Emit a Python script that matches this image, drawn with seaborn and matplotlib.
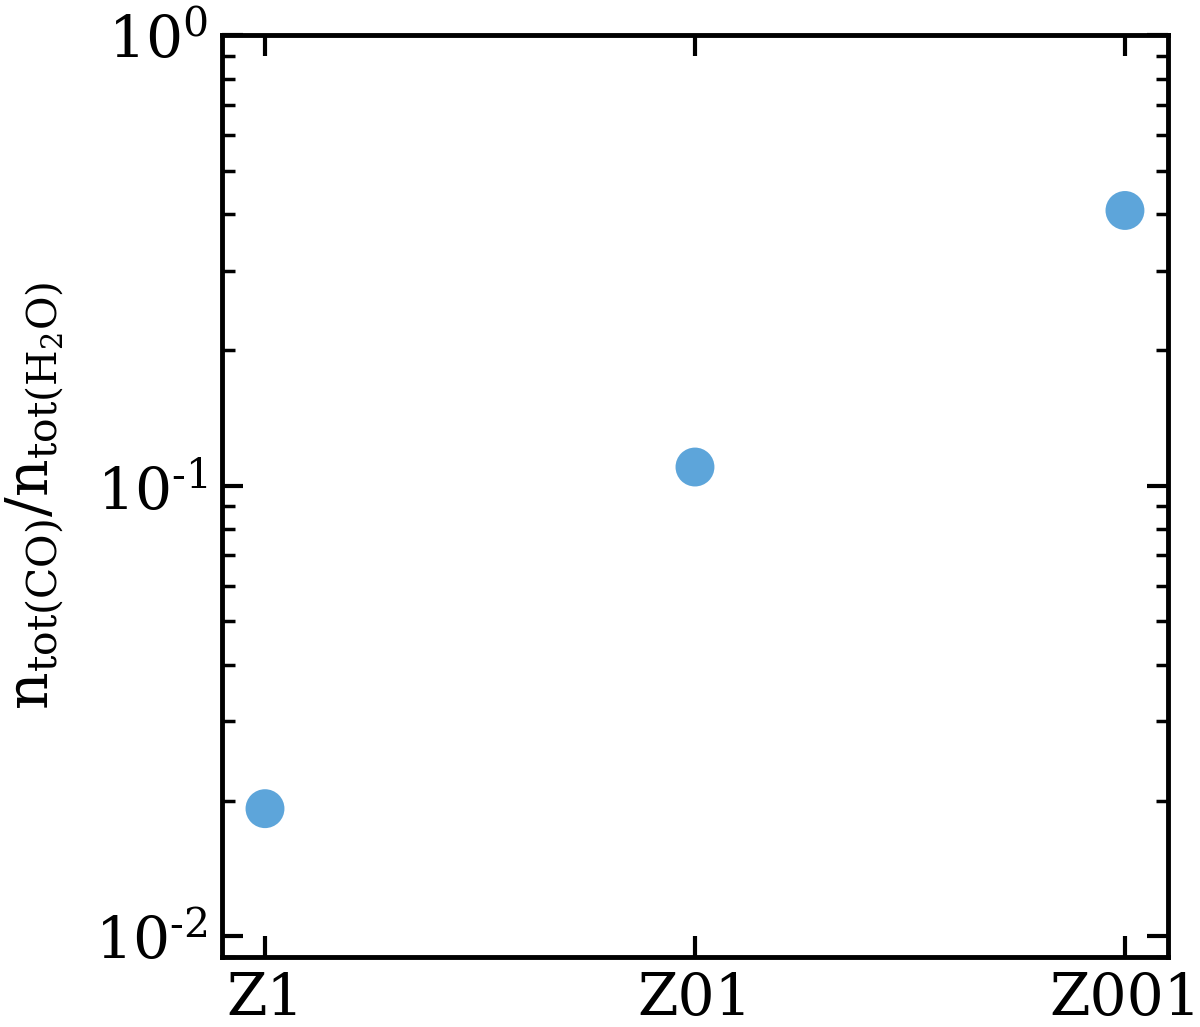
import matplotlib
matplotlib.use("Agg")
import matplotlib.pyplot as plt
import seaborn as sns
import pandas as pd
import numpy as np
from matplotlib.ticker import LogLocator, FuncFormatter

models = ["Z1", "Z01", "Z001"]
ratio = [0.0192, 0.110, 0.408]

sns.set_style("ticks")
plt.rcParams["font.family"] = ["DejaVu Serif"]
plt.rcParams["mathtext.fontset"] = "dejavuserif"
plt.rcParams["axes.unicode_minus"] = False
plt.rcParams["text.color"] = "black"
plt.rcParams["axes.labelcolor"] = "black"
plt.rcParams["xtick.color"] = "black"
plt.rcParams["ytick.color"] = "black"

df = pd.DataFrame({"model": models, "ratio": ratio})

fig = plt.figure(figsize=(12, 10.27), dpi=100)
ax = fig.add_axes([0.185, 0.0682, 0.7883, 0.8977])
sns.scatterplot(data=df, x="model", y="ratio", ax=ax, s=784, color="#5DA5DA",
                edgecolor="none", linewidth=0, zorder=3)
ax.set_yscale("log")
ax.set_ylim(0.009, 1.0)
ax.set_xlim(-0.1, 2.1)
ax.yaxis.set_major_locator(LogLocator(base=10, numticks=10))
ax.yaxis.set_minor_locator(LogLocator(base=10, subs=range(2, 10), numticks=20))


def fmt(v, pos):
    e = int(round(np.log10(v)))
    if e < 0:
        return r"$\mathrm{10^{\text{-}%d}}$" % (-e)
    return r"$\mathrm{10^{%d}}$" % e


ax.yaxis.set_major_formatter(FuncFormatter(fmt))
ax.set_xlabel("")
ax.set_ylabel(r"$\mathrm{n_{tot(CO)}/n_{tot(H_2O)}}$", fontsize=42, labelpad=22)

for sp in ax.spines.values():
    sp.set_linewidth(3.5)
    sp.set_color("black")
ax.tick_params(axis="both", which="major", direction="in", length=15, width=3,
               labelsize=42, top=True, right=True, pad=10, colors="black")
ax.tick_params(axis="y", which="minor", direction="in", length=9, width=2.5,
               right=True, left=True, colors="black")
ax.tick_params(axis="x", which="minor", bottom=False, top=False)

fig.savefig("out.png", dpi=100)
